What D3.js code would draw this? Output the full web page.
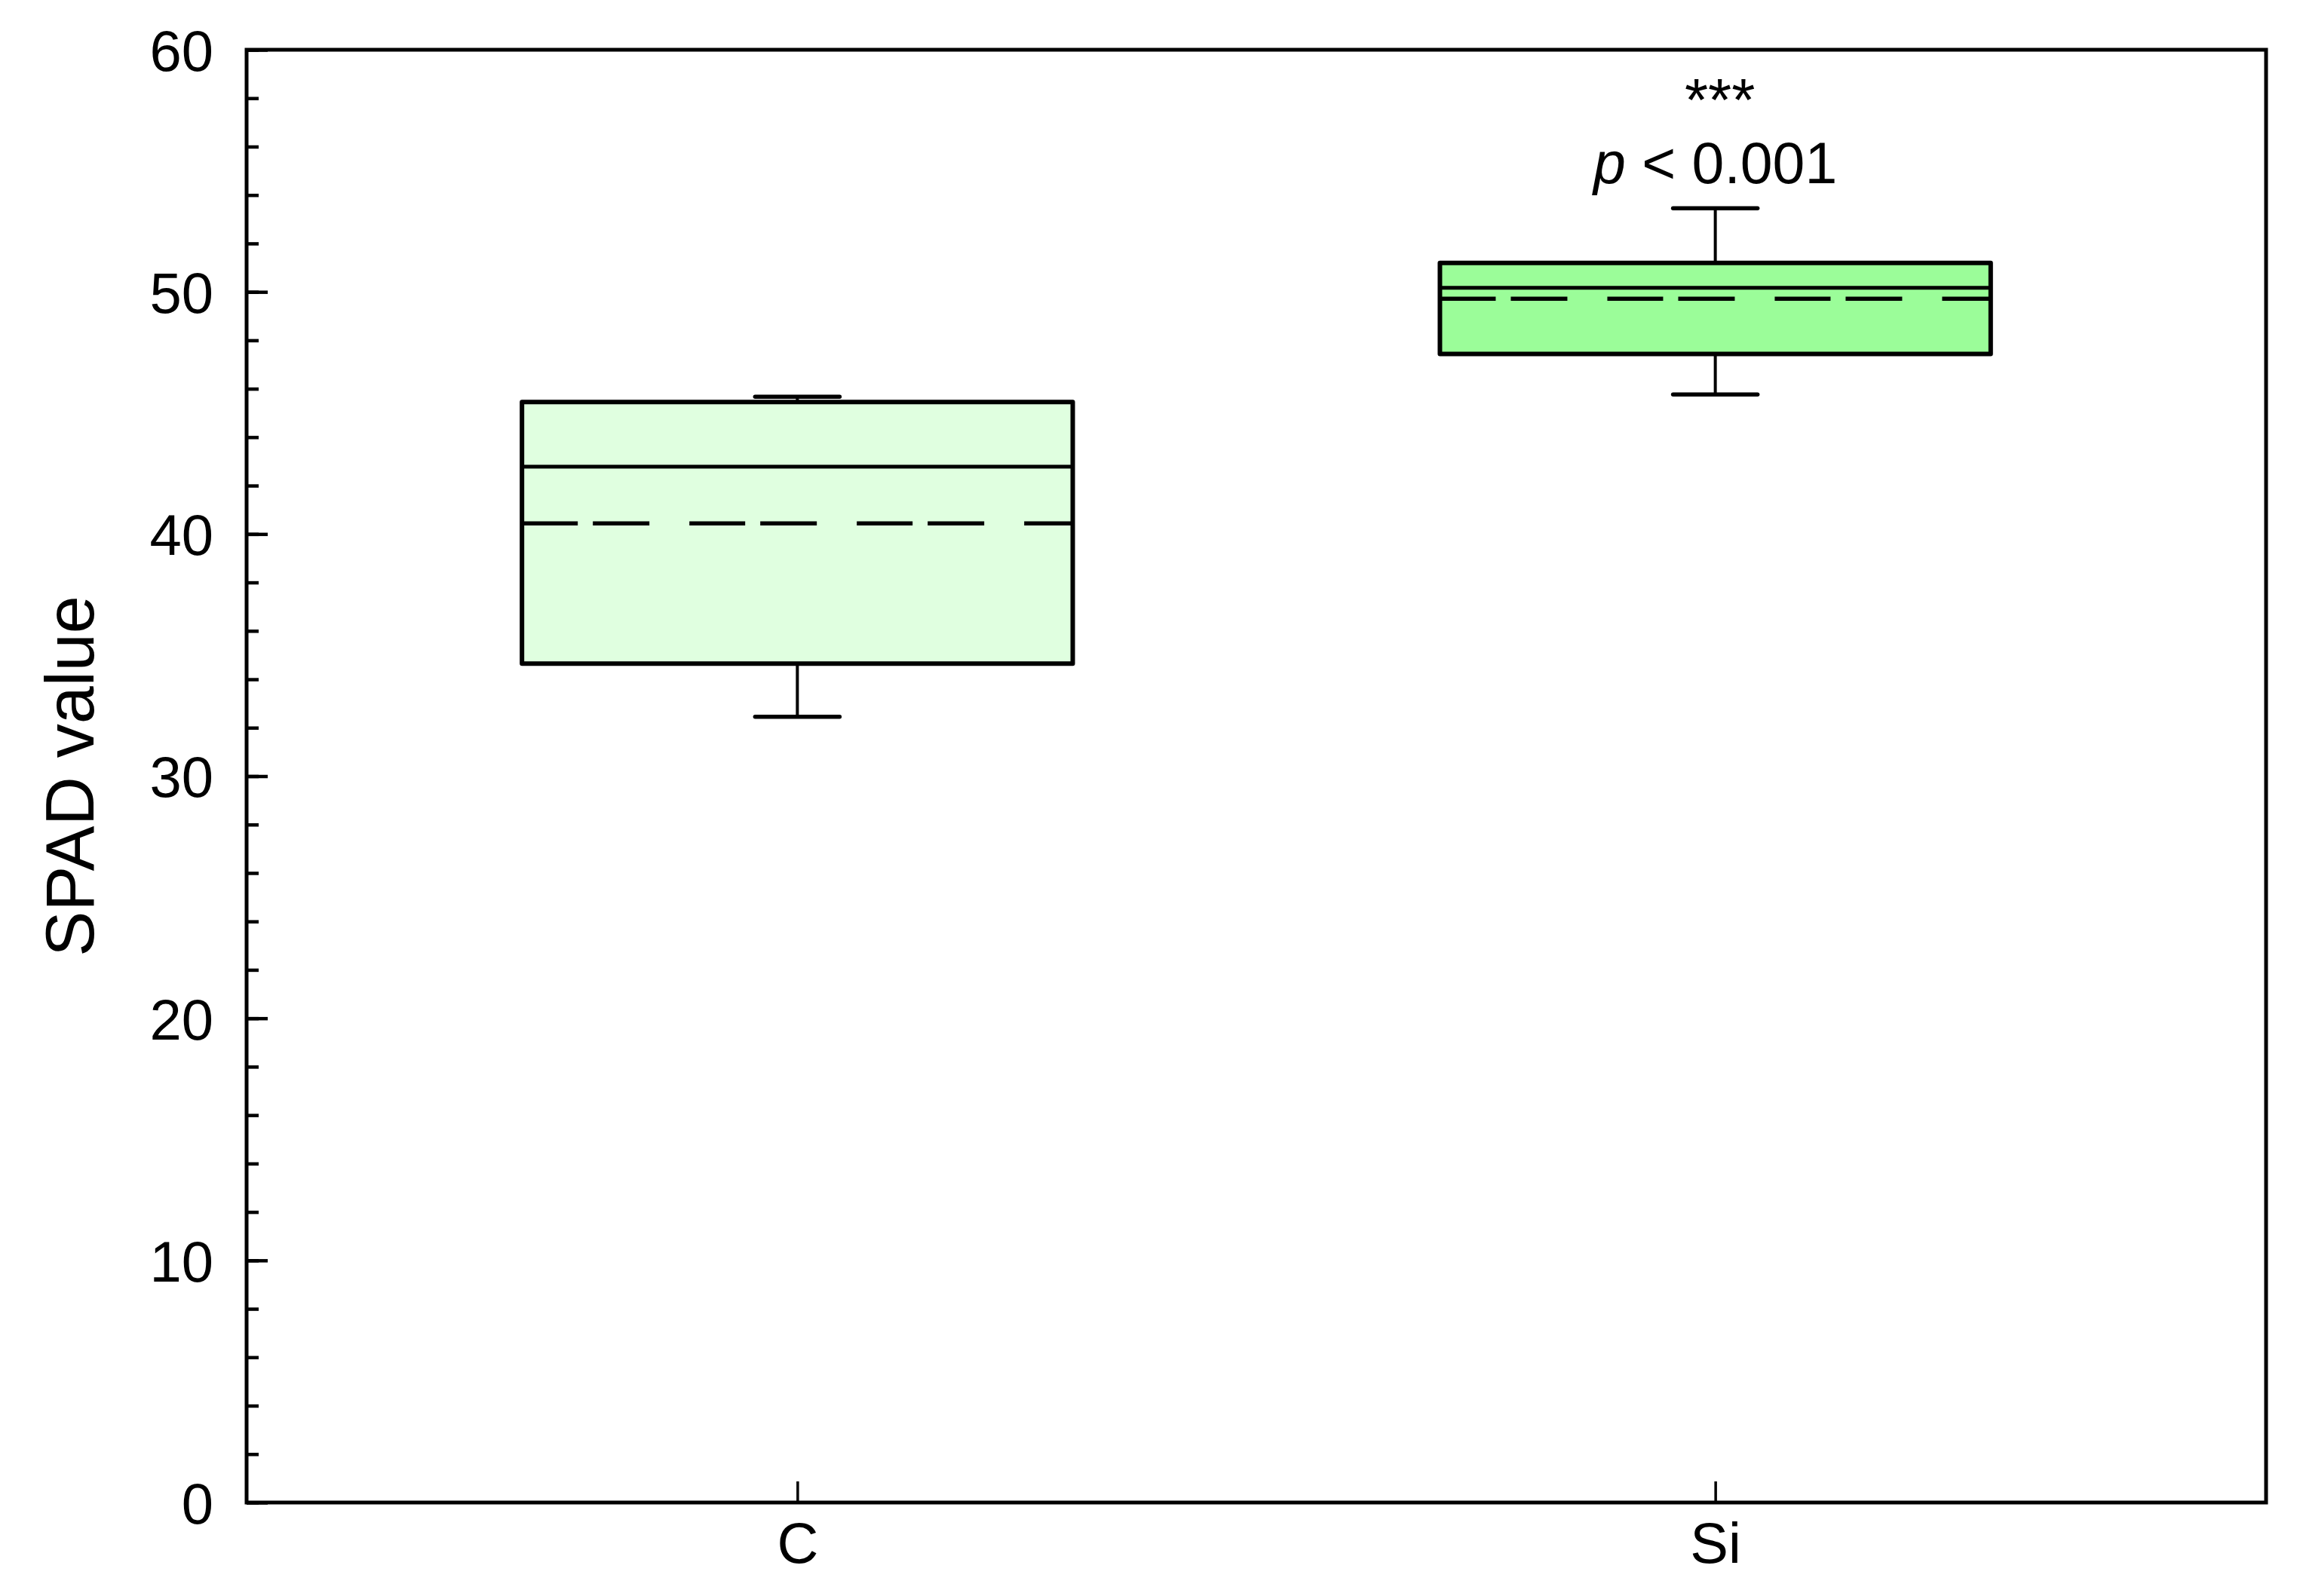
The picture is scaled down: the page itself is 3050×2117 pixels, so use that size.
<!DOCTYPE html>
<html>
<head>
<meta charset="utf-8">
<script src="https://cdn.jsdelivr.net/npm/d3@7/dist/d3.min.js"></script>
<style>
  html, body { margin: 0; padding: 0; background: #fff; }
  svg { display: block; }
  text { font-family: "Liberation Sans", Arial, sans-serif; fill: #000; }
</style>
</head>
<body>
<svg id="chart" width="3050" height="2117"></svg>
<script>
// ---- data ----
const categories = ["C", "Si"];
const q1Values = [34.65, 47.44];
const q3Values = [45.45, 51.2];
const medianValues = [42.78, 50.17];
const meanValues = [40.44, 49.72];
const whiskerLow = [32.45, 45.76];
const whiskerHigh = [45.67, 53.45];
const boxFills = ["#e0ffe0", "#9bfd99"];
const yTickValues = [0, 10, 20, 30, 40, 50, 60];
const yMinorTickValues = d3.range(0, 61, 2);
const yTitle = "SPAD value";
const sigStars = "***";
const sigCategory = "Si";

// ---- layout ----
const svg = d3.select("#chart");
const L = 327, R = 3005, T = 66, B = 1993;

const x = d3.scalePoint().domain(categories).range([L, R]).padding(0.6);
const y = d3.scaleLinear().domain([0, 60]).range([B, T]);
const boxW = x.step() * 0.6;
const capW = 112;

// minor y ticks
svg.append("g")
  .attr("transform", `translate(${L},0)`)
  .call(d3.axisLeft(y).tickValues(yMinorTickValues).tickSize(-16).tickFormat(""))
  .call(g => g.select(".domain").remove())
  .call(g => g.selectAll("line").attr("stroke", "#000").attr("stroke-width", 4.5));

// major y ticks + labels
svg.append("g")
  .attr("transform", `translate(${L},0)`)
  .call(d3.axisLeft(y).tickValues(yTickValues).tickSize(-28).tickPadding(44).tickFormat(d3.format("d")))
  .call(g => g.select(".domain").remove())
  .call(g => g.selectAll("line").attr("stroke", "#000").attr("stroke-width", 4.5))
  .call(g => g.selectAll("text")
      .attr("font-size", 76)
      .attr("font-family", "Liberation Sans, Arial, sans-serif")
      .attr("fill", "#000")
      .attr("x", -44)
      .attr("dy", "0.36em"));

// x axis ticks + labels
svg.append("g")
  .attr("transform", `translate(0,${B})`)
  .call(d3.axisBottom(x).tickSize(-28).tickPadding(0))
  .call(g => g.select(".domain").remove())
  .call(g => g.selectAll("line").attr("stroke", "#000").attr("stroke-width", 3.5))
  .call(g => g.selectAll("text")
      .attr("font-size", 76)
      .attr("font-family", "Liberation Sans, Arial, sans-serif")
      .attr("fill", "#000")
      .attr("y", 80)
      .attr("dy", 0));

// boxes
const data = categories.map((c, i) => ({
  c, q1: q1Values[i], q3: q3Values[i], med: medianValues[i], mean: meanValues[i],
  lo: whiskerLow[i], hi: whiskerHigh[i], fill: boxFills[i]
}));

const gBox = svg.append("g");
data.forEach(d => {
  const cx = x(d.c);
  const g = gBox.append("g");
  // whiskers
  g.append("line").attr("x1", cx).attr("x2", cx).attr("y1", y(d.q3)).attr("y2", y(d.hi))
    .attr("stroke", "#000").attr("stroke-width", 4);
  g.append("line").attr("x1", cx).attr("x2", cx).attr("y1", y(d.q1)).attr("y2", y(d.lo))
    .attr("stroke", "#000").attr("stroke-width", 4);
  g.append("line").attr("x1", cx - capW / 2).attr("x2", cx + capW / 2).attr("y1", y(d.hi)).attr("y2", y(d.hi))
    .attr("stroke", "#000").attr("stroke-width", 5.5).attr("stroke-linecap", "round");
  g.append("line").attr("x1", cx - capW / 2).attr("x2", cx + capW / 2).attr("y1", y(d.lo)).attr("y2", y(d.lo))
    .attr("stroke", "#000").attr("stroke-width", 5.5).attr("stroke-linecap", "round");
  // box
  g.append("rect")
    .attr("x", cx - boxW / 2).attr("width", boxW)
    .attr("y", y(d.q3)).attr("height", y(d.q1) - y(d.q3))
    .attr("fill", d.fill).attr("stroke", "#000").attr("stroke-width", 6)
    .attr("stroke-linejoin", "round");
  // median
  g.append("line").attr("x1", cx - boxW / 2).attr("x2", cx + boxW / 2)
    .attr("y1", y(d.med)).attr("y2", y(d.med))
    .attr("stroke", "#000").attr("stroke-width", 5);
  // mean (dashed)
  g.append("line").attr("x1", cx - boxW / 2).attr("x2", cx + boxW / 2)
    .attr("y1", y(d.mean)).attr("y2", y(d.mean))
    .attr("stroke", "#000").attr("stroke-width", 5.5)
    .attr("stroke-dasharray", "74 20 75 53");
});

// frame
svg.append("rect")
  .attr("x", L).attr("y", T).attr("width", R - L).attr("height", B - T)
  .attr("fill", "none").attr("stroke", "#000").attr("stroke-width", 5);

// significance annotation
const sx = x(sigCategory);
svg.append("text")
  .attr("x", sx + 6).attr("y", 160)
  .attr("text-anchor", "middle").attr("font-size", 80)
  .text(sigStars);
const pt = svg.append("text")
  .attr("x", sx).attr("y", 243)
  .attr("text-anchor", "middle").attr("font-size", 77);
pt.append("tspan").attr("font-style", "italic").text("p");
pt.append("tspan").text(" < 0.001");

// y title
svg.append("text")
  .attr("transform", `translate(124,${(T + B) / 2}) rotate(-90)`)
  .attr("text-anchor", "middle").attr("font-size", 90)
  .text(yTitle);
</script>
</body>
</html>
